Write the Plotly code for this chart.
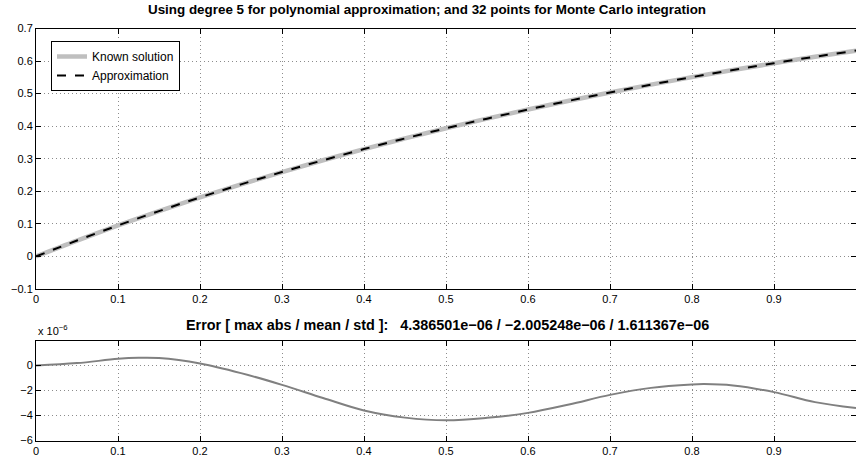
import plotly.graph_objects as go

# ---- data ----
x_vals = [0.0, 0.05, 0.1, 0.15, 0.2, 0.25, 0.3, 0.35, 0.4, 0.45, 0.5,
          0.55, 0.6, 0.65, 0.7, 0.75, 0.8, 0.85, 0.9, 0.95, 1.0]
known_solution = [0.0, 0.0488, 0.0952, 0.1393, 0.1813, 0.2212, 0.2592, 0.2953,
                  0.3297, 0.3624, 0.3935, 0.4231, 0.4512, 0.4780, 0.5034, 0.5276,
                  0.5507, 0.5726, 0.5934, 0.6133, 0.6321]
approximation = [0.0, 0.0488, 0.0952, 0.1393, 0.1813, 0.2212, 0.2592, 0.2953,
                 0.3297, 0.3624, 0.3935, 0.4231, 0.4512, 0.4780, 0.5034, 0.5276,
                 0.5507, 0.5726, 0.5934, 0.6133, 0.6321]
error_x = [0.0, 0.05, 0.1, 0.125, 0.15, 0.2, 0.25, 0.3, 0.35, 0.4, 0.45, 0.5,
           0.55, 0.6, 0.65, 0.7, 0.75, 0.8, 0.815, 0.85, 0.9, 0.95, 1.0]
error_e6 = [0.0, 0.19, 0.53, 0.61, 0.59, 0.16, -0.61, -1.55, -2.60, -3.60, -4.17, -4.39,
            -4.19, -3.79, -3.12, -2.35, -1.79, -1.52, -1.49, -1.60, -2.13, -2.93, -3.41]

x_ticks = [0, 0.1, 0.2, 0.3, 0.4, 0.5, 0.6, 0.7, 0.8, 0.9, 1.0]
x_ticklabels = ["0", "0.1", "0.2", "0.3", "0.4", "0.5", "0.6", "0.7", "0.8", "0.9", "1"]
top_y_ticks = [-0.1, 0, 0.1, 0.2, 0.3, 0.4, 0.5, 0.6, 0.7]
top_y_ticklabels = ["\u22120.1", "0", "0.1", "0.2", "0.3", "0.4", "0.5", "0.6", "0.7"]
bot_y_ticks = [-6, -4, -2, 0]
bot_y_ticklabels = ["\u22126", "\u22124", "\u22122", "0"]

NB = "\u00a0"
title_top = "Using degree 5 for polynomial approximation; and 32 points for Monte Carlo integration"
title_bot = ("Error [ max abs / mean / std ]:" + NB * 3 +
             "4.386501e\u221206 / \u22122.005248e\u221206 / 1.611367e\u221206")

W, H = 856, 459
L = 36
PW = W - L
FONT = "Liberation Sans, Arial, Helvetica, sans-serif"

fig = go.Figure()
fig.add_trace(go.Scatter(x=x_vals, y=known_solution, mode="lines", name="Known solution",
                         line=dict(color="#bfbfbf", width=4.5, shape="spline"),
                         xaxis="x", yaxis="y"))
fig.add_trace(go.Scatter(x=x_vals, y=approximation, mode="lines", name="Approximation",
                         line=dict(color="black", width=2, dash="dash", shape="spline"),
                         xaxis="x", yaxis="y"))
fig.add_trace(go.Scatter(x=error_x, y=error_e6, mode="lines", showlegend=False,
                         line=dict(color="#808080", width=2, shape="spline"),
                         xaxis="x2", yaxis="y2"))

axis_common = dict(showline=True, linecolor="black", linewidth=1, mirror="allticks",
                   ticks="inside", ticklen=5, tickcolor="black", tickwidth=1,
                   showgrid=True, gridcolor="#8c8c8c", griddash="1px,3px", gridwidth=1,
                   zeroline=False, automargin=False,
                   tickfont=dict(family=FONT, size=11, color="black"))

def ydom(top_px, bot_px):
    return [1 - bot_px / H, 1 - top_px / H]

def px_x(px):
    return (px - L) / PW

fig.update_layout(
    width=W, height=H,
    margin=dict(l=L, r=0, t=0, b=0),
    paper_bgcolor="white", plot_bgcolor="white",
    font=dict(family=FONT, size=11, color="black"),
    xaxis=dict(axis_common, domain=[0, 1], range=[0, 1], tickvals=x_ticks,
               ticktext=x_ticklabels, anchor="y"),
    yaxis=dict(axis_common, domain=ydom(28.5, 289), range=[-0.1, 0.7],
               tickvals=top_y_ticks, ticktext=top_y_ticklabels, anchor="x"),
    xaxis2=dict(axis_common, domain=[0, 1], range=[0, 1], tickvals=x_ticks,
                ticktext=x_ticklabels, anchor="y2"),
    yaxis2=dict(axis_common, domain=ydom(340.5, 440.5), range=[-6, 2],
                tickvals=bot_y_ticks, ticktext=bot_y_ticklabels, anchor="x2"),
    legend=dict(x=px_x(51), y=1 - 41 / H, xanchor="left", yanchor="top",
                bgcolor="white", bordercolor="black", borderwidth=1,
                font=dict(family=FONT, size=12, color="black"),
                tracegroupgap=0, itemwidth=30),
    showlegend=True,
    annotations=[
        dict(text="<b>" + title_top + "</b>", xref="paper", yref="paper",
             x=px_x(146), y=1 - 10 / H, xanchor="left", yanchor="middle", showarrow=False,
             font=dict(family=FONT, size=13.4, color="black")),
        dict(text="<b>" + title_bot + "</b>", xref="paper", yref="paper",
             x=px_x(184), y=1 - 325 / H, xanchor="left", yanchor="middle", showarrow=False,
             font=dict(family=FONT, size=14.4, color="black")),
        dict(text="x 10<sup>\u22126</sup>", xref="paper", yref="paper",
             x=0, y=1 - 330 / H, xanchor="left", yanchor="middle", showarrow=False,
             font=dict(family=FONT, size=11, color="black")),
    ],
)

fig.write_html("out.html", config={"displayModeBar": False},
               post_script="document.body.style.margin='0';document.body.style.overflow='hidden';")
